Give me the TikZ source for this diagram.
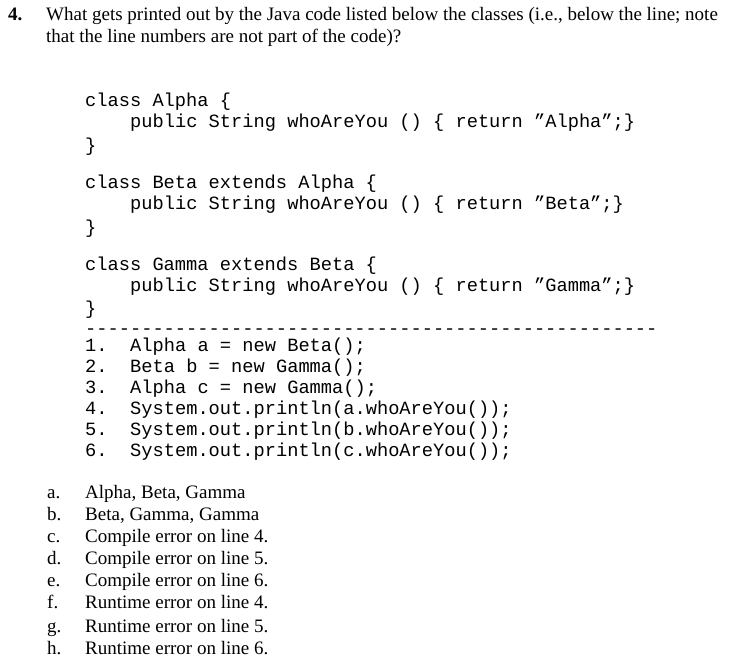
\documentclass[tikz,border=0pt]{standalone}
\usepackage{fontspec}
\setmainfont{Liberation Serif}
\setmonofont{Liberation Mono}
\begin{document}
\begin{tikzpicture}[x=1pt,y=-1pt,
  tx/.style={anchor=base west,inner sep=0pt,font=\fontsize{19}{22}\selectfont},
  cd/.style={anchor=base west,inner sep=0pt,font=\fontsize{18.7}{20}\ttfamily}]
\useasboundingbox (0,0) rectangle (735,665);
\node[tx,font=\fontsize{19}{22}\bfseries] (n) at (8,20) {4.};
\node[tx] (q1) at (46,20) {What gets printed out by the Java code listed below the classes (i.e., below the line; note};
\node[tx] (q2) at (46,42) {that the line numbers are not part of the code)?};
\node[cd] (c1) at (85,106) {class Alpha \{};
\node[cd] (c2) at (130,127) {public String whoAreYou () \{ return ”Alpha”;\}};
\node[cd] (c3) at (85,151) {\}};
\node[cd] (c4) at (85,188) {class Beta extends Alpha \{};
\node[cd] (c5) at (130,209) {public String whoAreYou () \{ return ”Beta”;\}};
\node[cd] (c6) at (85,233) {\}};
\node[cd] (c7) at (85,270) {class Gamma extends Beta \{};
\node[cd] (c8) at (130,291) {public String whoAreYou () \{ return ”Gamma”;\}};
\node[cd] (c9) at (85,314) {\}};
\node[cd] (dl) at (85,334) {---------------------------------------------------};
\foreach \i/\t [count=\k] in {1/{Alpha a = new Beta();},2/{Beta b = new Gamma();},3/{Alpha c = new Gamma();},4/{System.out.println(a.whoAreYou());},5/{System.out.println(b.whoAreYou());},6/{System.out.println(c.whoAreYou());}}{
  \node[cd] (ln\i) at (85,330+21*\k) {\i.};
  \node[cd] (lc\i) at (130,330+21*\k) {\t};
}
\foreach \l/\t/\y in {a/{Alpha, Beta, Gamma}/498,b/{Beta, Gamma, Gamma}/520,c/{Compile error on line 4.}/542,d/{Compile error on line 5.}/564,e/{Compile error on line 6.}/586,f/{Runtime error on line 4.}/608,g/{Runtime error on line 5.}/632,h/{Runtime error on line 6.}/654}{
  \node[tx] (al\l) at (47,\y) {\l.};
  \node[tx] (at\l) at (85,\y) {\t};
}
\end{tikzpicture}
\end{document}
